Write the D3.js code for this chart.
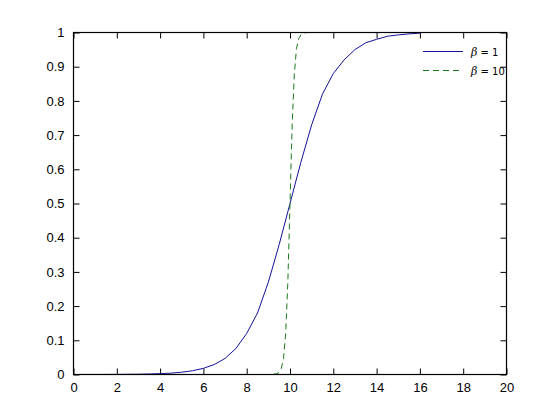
<!DOCTYPE html>
<html>
<head>
<meta charset="utf-8">
<script src="https://cdn.jsdelivr.net/npm/d3@7"></script>
<style>
  body { margin: 0; background: #fff; }
  svg { display: block; }
</style>
</head>
<body>
<svg id="chart" width="560" height="420"></svg>
<script>
// values
var xTicks = [0, 2, 4, 6, 8, 10, 12, 14, 16, 18, 20];
var yTicks = [0, 0.1, 0.2, 0.3, 0.4, 0.5, 0.6, 0.7, 0.8, 0.9, 1];

// beta = 1 curve
var x1 = [0, 0.5, 1, 1.5, 2, 2.5, 3, 3.5, 4, 4.5, 5, 5.5, 6, 6.5, 7, 7.5, 8, 8.5,
          9, 9.5, 10, 10.5, 11, 11.5, 12, 12.5, 13, 13.5, 14, 14.5, 15, 15.5, 16];
var y1 = [0, 0.0001, 0.0001, 0.0002, 0.0003, 0.0006, 0.0009, 0.0015, 0.0025, 0.004,
          0.0067, 0.011, 0.018, 0.029, 0.047, 0.076, 0.12, 0.18, 0.27, 0.38, 0.5,
          0.62, 0.73, 0.82, 0.88, 0.92, 0.95, 0.97, 0.98, 0.989, 0.993, 0.996, 0.998];

// beta = 10 curve
var x10 = [6, 7, 8, 9, 9.2, 9.4, 9.5, 9.6, 9.7, 9.8, 9.9, 10, 10.1, 10.2, 10.3,
           10.4, 10.5, 10.6, 10.8, 11, 12, 13, 14, 15, 16];
var y10 = [0, 0, 0, 0, 0.0003, 0.0025, 0.0067, 0.018, 0.047, 0.12, 0.27, 0.5, 0.73,
           0.88, 0.953, 0.982, 0.993, 0.998, 1, 1, 1, 1, 1, 1, 1];

var labels = ["1", "10"];

var svg = d3.select("#chart");
// half pixels so the frame sits on whole pixels and hides lines lying on it
var pLeft = 73.5, pRight = 506.5, pTop = 32.5, pBottom = 374.5;

var x = d3.scaleLinear().domain([0, 20]).range([pLeft, pRight]);
var y = d3.scaleLinear().domain([0, 1]).range([pBottom, pTop]);

// axes, ticks pointing inward on all four sides like matlab
function styleAxis(g) {
  g.select(".domain").remove();
  g.selectAll("line").attr("stroke", "#000");
  g.selectAll("text")
    .attr("font-family", "Liberation Sans, Arial, sans-serif")
    .attr("font-size", 13)
    .attr("fill", "#000");
}

svg.append("g")
  .attr("transform", "translate(0," + pBottom + ")")
  .call(d3.axisBottom(x).tickValues(xTicks).tickSizeInner(-6).tickSizeOuter(0).tickPadding(8).tickFormat(d3.format("d")))
  .call(styleAxis);

svg.append("g")
  .attr("transform", "translate(" + pLeft + ",0)")
  .call(d3.axisLeft(y).tickValues(yTicks).tickSizeInner(-6).tickSizeOuter(0).tickPadding(9).tickFormat(d3.format("~g")))
  .call(styleAxis);

svg.append("g")
  .attr("transform", "translate(0," + pTop + ")")
  .call(d3.axisTop(x).tickValues(xTicks).tickSizeInner(-6).tickSizeOuter(0).tickFormat(""))
  .call(styleAxis);

svg.append("g")
  .attr("transform", "translate(" + pRight + ",0)")
  .call(d3.axisRight(y).tickValues(yTicks).tickSizeInner(-6).tickSizeOuter(0).tickFormat(""))
  .call(styleAxis);

var line = d3.line()
  .x(function(d) { return x(d[0]); })
  .y(function(d) { return y(d[1]); });

svg.append("path")
  .datum(d3.zip(x1, y1))
  .attr("d", line)
  .attr("fill", "none")
  .attr("stroke", "#12129a")
  .attr("stroke-width", 1);

svg.append("path")
  .datum(d3.zip(x10, y10))
  .attr("d", line)
  .attr("fill", "none")
  .attr("stroke", "#1a7a1a")
  .attr("stroke-width", 1)
  .attr("stroke-dasharray", "6,4");

// box
svg.append("rect")
  .attr("x", pLeft).attr("y", pTop)
  .attr("width", pRight - pLeft).attr("height", pBottom - pTop)
  .attr("fill", "none")
  .attr("stroke", "#000")
  .attr("stroke-width", 1.2);

// legend
var legend = svg.append("g");
var styles = [{ c: "#12129a", dash: null }, { c: "#1a7a1a", dash: "6,4" }];

labels.forEach(function(lab, i) {
  var ly = 51.5 + i * 19;
  legend.append("line")
    .attr("x1", 423).attr("x2", 463)
    .attr("y1", ly).attr("y2", ly)
    .attr("stroke", styles[i].c)
    .attr("stroke-dasharray", styles[i].dash);
  var t = legend.append("text")
    .attr("x", 471).attr("y", ly + 4)
    .attr("font-family", "DejaVu Sans, sans-serif")
    .attr("font-size", 10)
    .attr("fill", "#000");
  t.append("tspan")
    .attr("font-family", "DejaVu Serif, serif")
    .attr("font-style", "italic")
    .attr("font-size", 11)
    .text("\u03b2");
  t.append("tspan").text(" = " + lab);
});
</script>
</body>
</html>
